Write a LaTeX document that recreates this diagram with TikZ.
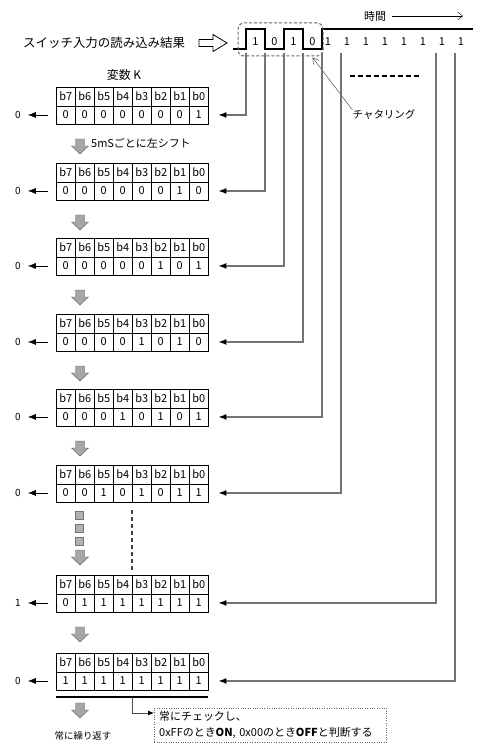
\documentclass[tikz,border=0pt]{standalone}
\usepackage{fontspec}
\setmainfont{Noto Sans CJK JP}
\usetikzlibrary{calc,positioning,arrows.meta}
\tikzset{
    x=1bp, y=-1bp, % pixel units, y going down
    bitcell/.style={draw, minimum width=19bp, minimum height=18.5bp, inner sep=0pt, anchor=north west, font=\fontsize{11}{12}\selectfont},
    wire/.style={draw=black!55, line width=1.4bp}, % lines from the input signal
    tip/.style={-{Latex[length=8bp,width=6bp,color=black]}},
    lbl/.style={inner sep=0pt, font=\fontsize{11}{13}\selectfont},
    shiftarrow/.pic={\filldraw[fill=black!35,draw=black!65] (-4.5,0) -- (4.5,0) -- (4.5,7) -- (8.5,7) -- (0,15) -- (-8.5,7) -- (-4.5,7) -- cycle;},
    hollowarrow/.pic={\filldraw[fill=white,draw=black,line width=0.8bp] (0,-3.5) -- (14,-3.5) -- (14,-8.5) -- (28,0) -- (14,8.5) -- (14,3.5) -- (0,3.5) -- cycle;},
}
\begin{document}
\begin{tikzpicture}
    \useasboundingbox (0,0) rectangle (486,750);

    % input signal
    \node[lbl, anchor=west, font=\fontsize{12.5}{14}\selectfont] (sw_in) at (23,43) {スイッチ入力の読み込み結果};
    \pic at (199,43) {hollowarrow};
    \node[lbl] (jikan) at (375,16) {時間};
    \coordinate (jikan_end) at (463,16);
    \draw[-{Straight Barb[length=5bp,width=8bp]}] ([xshift=6bp]jikan.east) -- (jikan_end);
    \draw[line width=2.3bp] (233,49) -- (246,49) -- (246,29) -- (265,29) -- (265,49) -- (284,49) -- (284,29)
        -- (303,29) -- (303,49) -- (322,49) -- (322,29) -- (473,29);
    \foreach \i/\b in {0/1,1/0,2/1,3/0}
        \node[lbl] (bit_\i) at (255.5+19*\i,42) {\b};
    \foreach \i in {4,...,11}
        \node[lbl] (bit_\i) at (252+19*\i,42) {1};
    \foreach \i in {0,...,11}
        \coordinate (t_\i) at (246+19*\i,53);
    \node[draw=black!60, line width=1bp, dash pattern=on 3bp off 2bp, rounded corners=6bp, minimum width=85bp, minimum height=33bp] (chatbox) at (280.5,39.5) {};
    \node[lbl, font=\fontsize{10.5}{12}\selectfont] (chat_lbl) at (384,115) {チャタリング};
    \draw[black!80, -{Straight Barb[length=6bp,width=7bp]}] (chat_lbl.north west) -- ([xshift=-11bp,yshift=-1bp]chatbox.south east);
    \draw[line width=1.2bp, dash pattern=on 5bp off 3bp] (350,76) -- (421,76);

    % variable K, shifted every 5 ms
    \node[font=\fontsize{12}{14}\selectfont] (var_k) at (124,75) {変数 K};
    \foreach \k/\ytop/\bits in {1/87/{0,0,0,0,0,0,0,1}, 2/163/{0,0,0,0,0,0,1,0}, 3/238/{0,0,0,0,0,1,0,1},
        4/314/{0,0,0,0,1,0,1,0}, 5/389/{0,0,0,1,0,1,0,1}, 6/465/{0,0,1,0,1,0,1,1},
        7/575/{0,1,1,1,1,1,1,1}, 8/653/{1,1,1,1,1,1,1,1}}{
        \foreach \b [count=\c from 0] in \bits {
            \pgfmathtruncatemacro{\n}{7-\c}
            \node[bitcell] (hdr_\k_\c) at (56+19*\c,\ytop) {b\n};
            \node[bitcell] (val_\k_\c) at (56+19*\c,\ytop+18.5) {\b};
        }
        \coordinate (in_\k) at ($(val_\k_7.east)+(10,0)$);
    }
    \foreach \k/\o in {1/0,2/0,3/0,4/0,5/0,6/0,7/1,8/0}{
        \node[lbl, font=\fontsize{10}{12}\selectfont] (out_\k) at ($(val_\k_0.west)+(-38,0)$) {\o};
        \draw[tip, shorten <=8bp, shorten >=7bp] (val_\k_0.west) -- (out_\k.east);
    }
    \foreach \k/\t in {1/0,2/1,3/2,4/3,5/4,6/5,7/10,8/11}
        \draw[wire, tip] (t_\t) |- (in_\k);

    \node[lbl, anchor=west, font=\fontsize{11}{13}\selectfont] (shift_note) at (91,143) {5mSごとに左シフト};
    \foreach \y in {139,215,290,366,441,550,627,703}
        \pic at (80,\y) {shiftarrow};
    \foreach \y in {515,528,541}
        \filldraw[fill=black!30, draw=black!55] (75.5,\y-4) rectangle (83.5,\y+4);
    \draw[black!75, line width=1.4bp, dash pattern=on 4bp off 3bp] (132,510) -- (132,570);

    % check of the last value
    \coordinate (bar_l) at (56,697);
    \coordinate (bar_r) at (208,697);
    \coordinate (bar_mid) at (132,697);
    \draw[line width=2.5bp] (bar_l) -- (bar_r);
    \node[lbl, font=\fontsize{9.5}{11}\selectfont] (repeat) at (83,736) {常に繰り返す};
    \node[draw=black!60, dotted, anchor=north west, text width=222bp, inner xsep=5bp, inner ysep=1bp,
        minimum height=34bp, align=left, font=\fontsize{11}{16}\selectfont] (chk) at (154,708)
        {常にチェックし、\\0xFFのとき\textbf{ON}, 0x00のとき\textbf{OFF}と判断する};
    \coordinate (chk_in) at (154,713);
    \draw[black!70, line width=0.8bp, -{Latex[length=6bp,width=5bp,color=black]}] (bar_mid) |- (chk_in);
\end{tikzpicture}
\end{document}
